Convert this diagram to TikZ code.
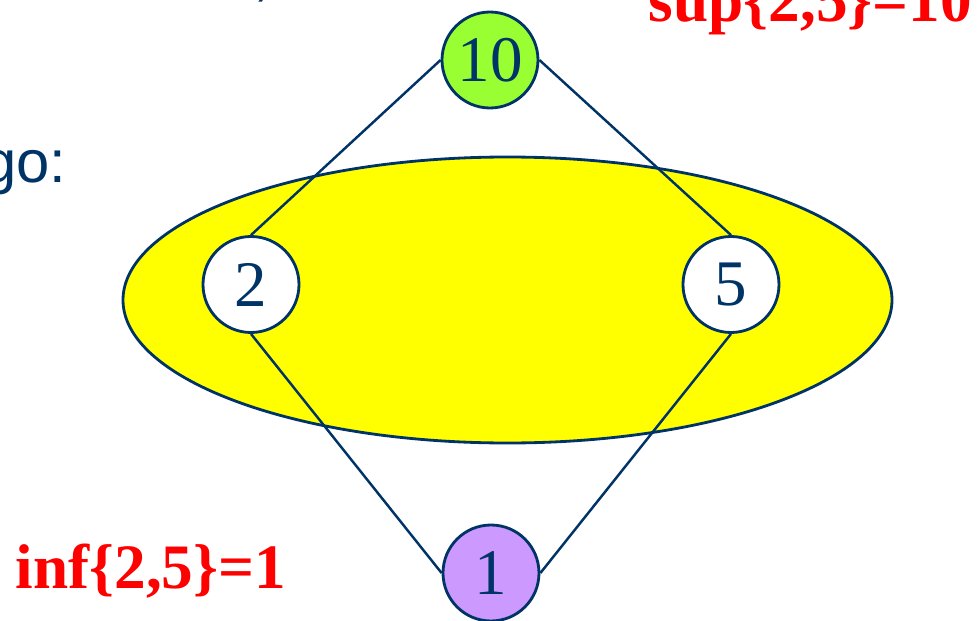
\documentclass[tikz,border=0pt]{standalone}
\usepackage{fontspec}
\setmainfont{Liberation Serif}
\setsansfont{Liberation Sans}
\definecolor{navy}{HTML}{003366}
\definecolor{topgreen}{HTML}{99FF33}
\definecolor{botpurple}{HTML}{CC99FF}
\definecolor{setyellow}{HTML}{FFFF00}
\tikzset{
    elem/.style={circle, draw=navy, line width=0.8pt, fill=white, minimum size=0.96cm,
        inner sep=0pt, text=navy, font=\fontsize{18.5}{20}\selectfont},
    edge/.style={navy, line width=0.7pt},
    bound/.style={red, font=\fontsize{18}{21}\selectfont\bfseries}
}
\begin{document}
\begin{tikzpicture}
    \useasboundingbox (0,0) rectangle (9.78,6.20);

    % the set {2,5}
    \draw[navy, line width=0.8pt, fill=setyellow] (5.075,3.20) ellipse (3.845cm and 1.43cm);

    % elements of the lattice
    \node[elem, fill=topgreen] (ten) at (4.90,5.60) {10};
    \node[elem] (two) at (2.51,3.355) {2};
    \node[elem] (five) at (7.31,3.355) {5};
    \node[elem, fill=botpurple] (one) at (4.91,0.47) {1};

    % order relation
    \draw[edge] (ten.west) -- (two.north);
    \draw[edge] (ten.east) -- (five.north);
    \draw[edge] (two.south) -- (one.west);
    \draw[edge] (five.south) -- (one.east);

    % text around
    \node[anchor=base east, text=navy, font=\sffamily\fontsize{17}{20}\selectfont] (go) at (0.79,4.38) {go:};
    \node[anchor=base, text=navy, font=\sffamily\fontsize{17}{20}\selectfont] (comma) at (2.62,6.25) {,};
    \node[bound, anchor=base west, inner sep=0pt] (sup) at (6.48,5.98) {sup\{2,5\}=10};
    \node[bound, anchor=base west, inner sep=0pt] (inf) at (0.15,0.32) {inf\{2,5\}=1};
\end{tikzpicture}
\end{document}
